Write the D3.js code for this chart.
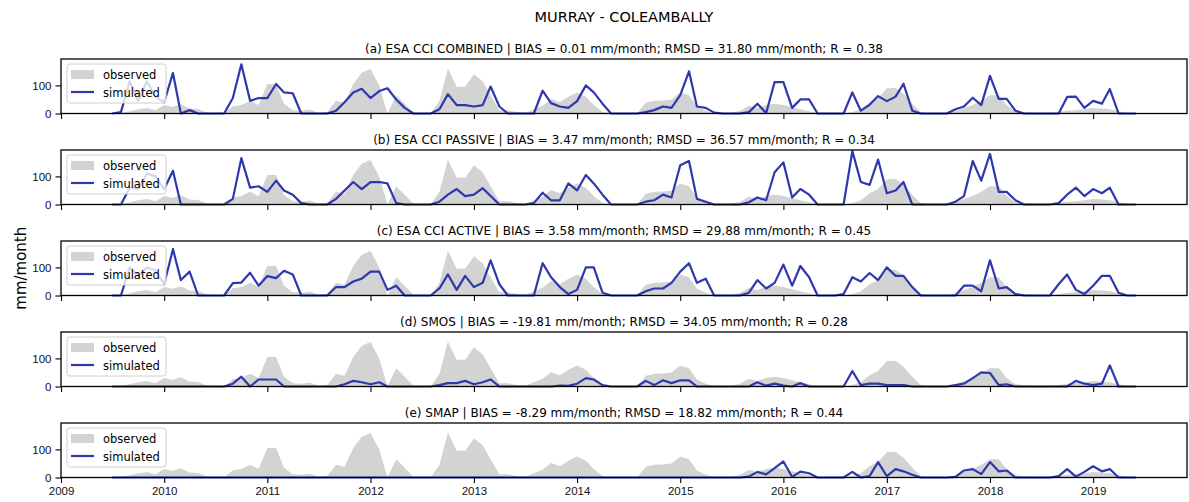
<!DOCTYPE html>
<html lang="en">
  <head>
    <meta charset="utf-8">
    <title>Murray - Coleambally</title>
    <style>
      body { margin: 0; background: #fff; }
      svg { font-family: "DejaVu Sans", sans-serif; }
      .frame { fill: none; stroke: #000; stroke-width: 1.3px; }
      .obs { fill: #d3d3d3; stroke: none; }
      .sim { fill: none; stroke: #2d38ad; stroke-width: 2.2px; stroke-linejoin: round; }
      .tick line { stroke: #000; stroke-width: 1.1px; }
      .tick text { font-size: 11.5px; fill: #111; }
      .domain { display: none; }
    </style>
  </head>
  <body>
<script src="https://cdn.jsdelivr.net/npm/d3@7/dist/d3.min.js"></script>
<script>

// monthly series, July 2009 .. June 2019
const startMonth = "2009-07", endMonth = "2019-06"

const observed = [
  0, 2, 8, 15, 20, 12, 30, 24, 33, 18, 16, 4,
  0, 0, 26, 30, 45, 30, 105, 105, 35, 12, 10, 14,
  2, 5, 45, 38, 105, 145, 158, 100, 0, 65, 35, 3,
  0, 0, 45, 160, 95, 95, 140, 115, 65, 12, 12, 5,
  2, 15, 28, 52, 40, 60, 75, 60, 30, 5, 0, 0,
  0, 0, 38, 45, 46, 50, 75, 65, 25, 10, 2, 0,
  2, 10, 28, 20, 30, 35, 30, 22, 15, 8, 2, 0,
  0, 0, 5, 15, 40, 55, 90, 92, 70, 35, 5, 0,
  0, 2, 8, 20, 30, 45, 65, 65, 30, 8, 5, 2,
  0, 0, 5, 10, 12, 15, 20, 18, 15, 8, 2, 0
]

const simCombined = [
  0, 5, 115, 45, 115, 60, 40, 144, 0, 12, 0, 0,
  0, 0, 55, 175, 45, 55, 55, 105, 75, 72, 0, 0,
  0, 0, 10, 40, 75, 88, 55, 80, 90, 50, 20, 0,
  0, 0, 15, 69, 30, 30, 25, 30, 96, 25, 0, 0,
  0, 0, 81, 37, 25, 20, 44, 100, 75, 35, 0, 0,
  0, 0, 5, 12, 25, 20, 65, 150, 25, 20, 3, 0,
  0, 0, 5, 35, 2, 112, 112, 20, 50, 50, 0, 0,
  0, 0, 75, 10, 31, 62, 44, 60, 106, 10, 0, 0,
  0, 0, 15, 25, 56, 30, 134, 52, 52, 10, 0, 0,
  0, 0, 0, 59, 60, 20, 45, 35, 87, 0, 0, 0
]

const simPassive = [
  0, 0, 60, 55, 110, 100, 55, 120, 0, 0, 0, 0,
  0, 0, 20, 165, 60, 65, 45, 85, 50, 35, 5, 0,
  0, 0, 20, 50, 80, 55, 80, 80, 75, 5, 0, 0,
  0, 0, 10, 35, 55, 30, 35, 58, 30, 0, 0, 0,
  0, 5, 42, 15, 15, 75, 50, 105, 75, 35, 0, 0,
  0, 0, 10, 15, 35, 25, 140, 155, 20, 10, 0, 0,
  0, 0, 8, 25, 15, 115, 150, 25, 55, 35, 0, 0,
  0, 0, 190, 80, 70, 160, 40, 50, 80, 0, 0, 0,
  0, 0, 10, 30, 155, 85, 180, 45, 45, 15, 0, 0,
  0, 0, 5, 35, 60, 30, 55, 40, 60, 0, 0, 0
]

const simActive = [
  0, 0, 100, 70, 100, 90, 40, 165, 55, 85, 0, 0,
  0, 0, 44, 46, 81, 35, 69, 62, 88, 75, 0, 0,
  0, 0, 30, 30, 50, 60, 85, 85, 20, 35, 0, 0,
  0, 0, 25, 75, 20, 70, 30, 45, 125, 40, 0, 0,
  0, 0, 115, 65, 30, 5, 20, 100, 100, 10, 0, 0,
  0, 0, 15, 25, 25, 45, 85, 115, 45, 60, 0, 0,
  0, 0, 10, 55, 25, 45, 110, 35, 105, 65, 0, 0,
  0, 5, 65, 50, 80, 55, 100, 70, 70, 30, 0, 0,
  0, 0, 0, 35, 35, 15, 125, 25, 30, 5, 0, 0,
  0, 0, 40, 75, 20, 5, 35, 70, 70, 10, 0, 0
]

const simSmos = [
  0, 0, 0, 0, 0, 0, 0, 0, 0, 0, 0, 0,
  0, 0, 10, 35, 0, 25, 25, 25, 0, 0, 0, 0,
  0, 0, 0, 8, 20, 15, 8, 15, 0, 0, 0, 0,
  0, 0, 5, 12, 12, 20, 8, 15, 25, 0, 0, 0,
  0, 0, 0, 0, 3, 2, 10, 30, 25, 5, 0, 0,
  0, 0, 20, 5, 22, 12, 22, 22, 0, 0, 0, 0,
  0, 0, 0, 15, 3, 10, 3, 0, 12, 0, 0, 0,
  0, 0, 55, 5, 10, 10, 5, 5, 5, 0, 0, 0,
  0, 0, 5, 10, 30, 50, 48, 5, 8, 0, 0, 0,
  0, 0, 0, 0, 20, 10, 5, 10, 75, 0, 0, 0
]

const simSmap = [
  0, 0, 0, 0, 0, 0, 0, 0, 0, 0, 0, 0,
  0, 0, 0, 0, 0, 0, 0, 0, 0, 0, 0, 0,
  0, 0, 0, 0, 0, 0, 0, 0, 0, 0, 0, 0,
  0, 0, 0, 0, 0, 0, 0, 0, 0, 0, 0, 0,
  0, 0, 0, 0, 0, 0, 0, 0, 0, 0, 0, 0,
  0, 0, 0, 0, 0, 0, 0, 0, 0, 0, 0, 0,
  0, 0, 3, 20, 11, 33, 57, 2, 21, 15, 0, 0,
  0, 0, 20, 0, 5, 55, 5, 30, 22, 10, 0, 0,
  0, 0, 2, 25, 30, 12, 55, 22, 25, 0, 0, 0,
  0, 0, 5, 30, 3, 20, 40, 22, 30, 0, 0, 0
]

const panelTitles = [
  "(a) ESA CCI COMBINED | BIAS = 0.01 mm/month; RMSD = 31.80 mm/month; R = 0.38",
  "(b) ESA CCI PASSIVE | BIAS = 3.47 mm/month; RMSD = 36.57 mm/month; R = 0.34",
  "(c) ESA CCI ACTIVE | BIAS = 3.58 mm/month; RMSD = 29.88 mm/month; R = 0.45",
  "(d) SMOS | BIAS = -19.81 mm/month; RMSD = 34.05 mm/month; R = 0.28",
  "(e) SMAP | BIAS = -8.29 mm/month; RMSD = 18.82 mm/month; R = 0.44"
]
const simSeries = [simCombined, simPassive, simActive, simSmos, simSmap]
const yearTicks = [2009, 2010, 2011, 2012, 2013, 2014, 2015, 2016, 2017, 2018, 2019]
const yTicks = [0, 100]
const legendLabels = ["observed", "simulated"]

// ************** layout *****************
var width = 1189, height = 502
var left = 61, right = 1187
var firstTop = 59, pitch = 91, panelH = 54.5

var parseMonth = d3.timeParse("%Y-%m")
var months = d3.timeMonth.range(parseMonth(startMonth), d3.timeMonth.offset(parseMonth(endMonth), 1))

// matplotlib-style 5% margins on the date axis
var span = months[months.length - 1] - months[0]
var x = d3.scaleTime()
    .domain([new Date(+months[0] - span * 0.05), new Date(+months[months.length - 1] + span * 0.05)])
    .range([left, right])

var svg = d3.select("body").append("svg")
    .attr("width", width)
    .attr("height", height)

svg.append("text")
    .attr("x", (left + right) / 2)
    .attr("y", 22)
    .attr("text-anchor", "middle")
    .style("font-size", "14.5px")
    .text("MURRAY - COLEAMBALLY")

svg.append("text")
    .attr("transform", "translate(21," + (firstTop + (4 * pitch + panelH) / 2) + ") rotate(-90)")
    .attr("text-anchor", "middle")
    .attr("dy", "0.35em")
    .style("font-size", "15px")
    .text("mm/month")

simSeries.forEach(function(sim, k) {
    var top = firstTop + k * pitch
    var y = d3.scaleLinear().domain([0, 194]).range([top + panelH, top])
    var g = svg.append("g")

    var clipId = "clip" + k
    g.append("clipPath").attr("id", clipId)
      .append("rect")
        .attr("x", left).attr("y", top)
        .attr("width", right - left).attr("height", panelH)

    var area = d3.area()
        .x(function(d, i) { return x(months[i]) })
        .y0(y(0))
        .y1(function(d) { return y(d) })
    var line = d3.line()
        .x(function(d, i) { return x(months[i]) })
        .y(function(d) { return y(d) })

    g.append("path").datum(observed)
        .attr("class", "obs")
        .attr("clip-path", "url(#" + clipId + ")")
        .attr("d", area)

    g.append("path").datum(sim)
        .attr("class", "sim")
        .attr("d", line)

    // axes
    g.append("g")
        .attr("transform", "translate(0," + (top + panelH) + ")")
        .call(d3.axisBottom(x)
            .tickValues(yearTicks.map(function(yr) { return new Date(yr, 0, 1) }))
            .tickSize(5.5).tickPadding(4)
            .tickFormat(k == simSeries.length - 1 ? d3.timeFormat("%Y") : ""))

    g.append("g")
        .attr("transform", "translate(" + left + ",0)")
        .call(d3.axisLeft(y).tickValues(yTicks).tickSize(5.5).tickPadding(4))

    g.append("rect")
        .attr("class", "frame")
        .attr("x", left).attr("y", top)
        .attr("width", right - left).attr("height", panelH)

    g.append("text")
        .attr("x", (left + right) / 2)
        .attr("y", top - 6)
        .attr("text-anchor", "middle")
        .style("font-size", "12px")
        .text(panelTitles[k])

    // legend
    var lg = g.append("g").attr("transform", "translate(" + (left + 6) + "," + (top + 5) + ")")
    lg.append("rect")
        .attr("width", 99).attr("height", 39)
        .attr("rx", 3)
        .attr("fill", "#fff").attr("fill-opacity", 0.8)
        .attr("stroke", "#d0d0d0")
    lg.append("rect")
        .attr("class", "obs")
        .attr("x", 4).attr("y", 6)
        .attr("width", 23).attr("height", 9)
    lg.append("line")
        .attr("class", "sim")
        .attr("x1", 4).attr("x2", 27)
        .attr("y1", 28).attr("y2", 28)
    lg.selectAll("text.lab")
        .data(legendLabels)
      .enter().append("text")
        .attr("class", "lab")
        .attr("x", 36)
        .attr("y", function(d, i) { return 10.5 + i * 18 })
        .attr("dy", "0.35em")
        .style("font-size", "11.5px")
        .text(function(d) { return d })
})

</script>
  </body>
</html>
